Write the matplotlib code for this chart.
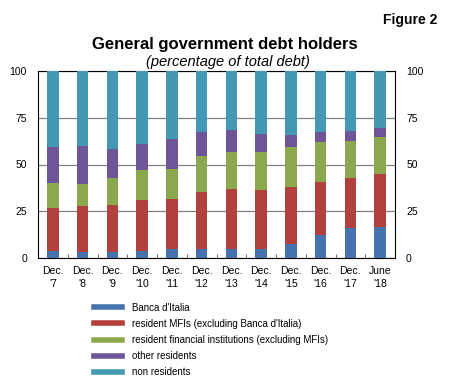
import matplotlib.pyplot as plt
import numpy as np

labels = ["Dec.\n'7", "Dec.\n'8", "Dec.\n'9", "Dec.\n'10", "Dec.\n'11", "Dec.\n'12",
          "Dec.\n'13", "Dec.\n'14", "Dec.\n'15", "Dec.\n'16", "Dec.\n'17", "June\n'18"]

banca_italia = [3.7, 3.4, 3.4, 3.7, 4.8, 4.8, 4.8, 4.8, 7.7, 12.3, 16.1, 16.4]
resident_mfi = [23.3, 24.2, 25.2, 27.1, 26.9, 30.6, 32.0, 31.3, 30.3, 28.2, 26.6, 28.4]
resident_fin = [13.0, 11.9, 14.1, 16.4, 16.0, 19.0, 19.8, 20.8, 21.1, 21.3, 19.6, 19.7]
other_res = [19.1, 20.6, 15.5, 13.5, 16.2, 13.0, 11.6, 9.3, 6.6, 5.5, 5.6, 4.8]
non_res = [40.9, 39.9, 41.8, 39.3, 36.1, 32.6, 31.8, 33.8, 34.3, 32.7, 32.1, 30.7]

series = [banca_italia, resident_mfi, resident_fin, other_res, non_res]
names = ["Banca d'Italia", "resident MFIs (excluding Banca d'Italia)",
         "resident financial institutions (excluding MFIs)",
         "other residents", "non residents"]
colors = ["#4673b0", "#b2403d", "#8ca84f", "#6e5598", "#4399b3"]

plt.rcParams['font.family'] = ['Liberation Sans', 'DejaVu Sans']

fig = plt.figure(figsize=(4.54, 3.90), dpi=100)
ax = fig.add_axes([38 / 454, 1 - 258 / 390, 357 / 454, 187 / 390])

x = np.arange(len(labels))
bottom = np.zeros(len(labels))
for vals, name, c in zip(series, names, colors):
    ax.bar(x, vals, 0.38, bottom=bottom, color=c, label=name, zorder=3)
    bottom += np.array(vals)

ax.set_xlim(-0.5, len(labels) - 0.5)
ax.set_ylim(0, 100)
ax.set_yticks([0, 25, 50, 75, 100])
ax.yaxis.grid(True, color='#808080', linewidth=0.9, zorder=0)
ax.tick_params(axis='y', length=0, labelsize=7.5, pad=8, right=True, labelright=True)
ax.set_xticks(x)
ax.set_xticklabels(labels, fontsize=7.5, linespacing=1.3)
ax.tick_params(axis='x', length=0, pad=6)
ax.set_xticks(np.arange(0.5, len(labels) - 1, 1), minor=True)
ax.tick_params(axis='x', which='minor', length=3, direction='in', color='#555555')
for s in ax.spines.values():
    s.set_linewidth(0.8)

fig.text(437 / 454, 1 - 20 / 390, "Figure 2", ha='right', va='center',
         fontsize=10, fontweight='bold')
fig.text(225 / 454, 1 - 45 / 390, "General government debt holders", ha='center',
         va='center', fontsize=12, fontweight='bold')
fig.text(228 / 454, 1 - 62 / 390, "(percentage of total debt)", ha='center',
         va='center', fontsize=10.5, style='italic')

handles = [plt.Line2D([0], [0], color=c, linewidth=4) for c in colors]
fig.legend(handles, names, loc='upper left', bbox_to_anchor=(89 / 454, 1 - 298 / 390),
           frameon=False, fontsize=7, handlelength=2.9, labelspacing=0.62,
           handletextpad=1.0, borderpad=0)

fig.savefig("out.png", dpi=100)
